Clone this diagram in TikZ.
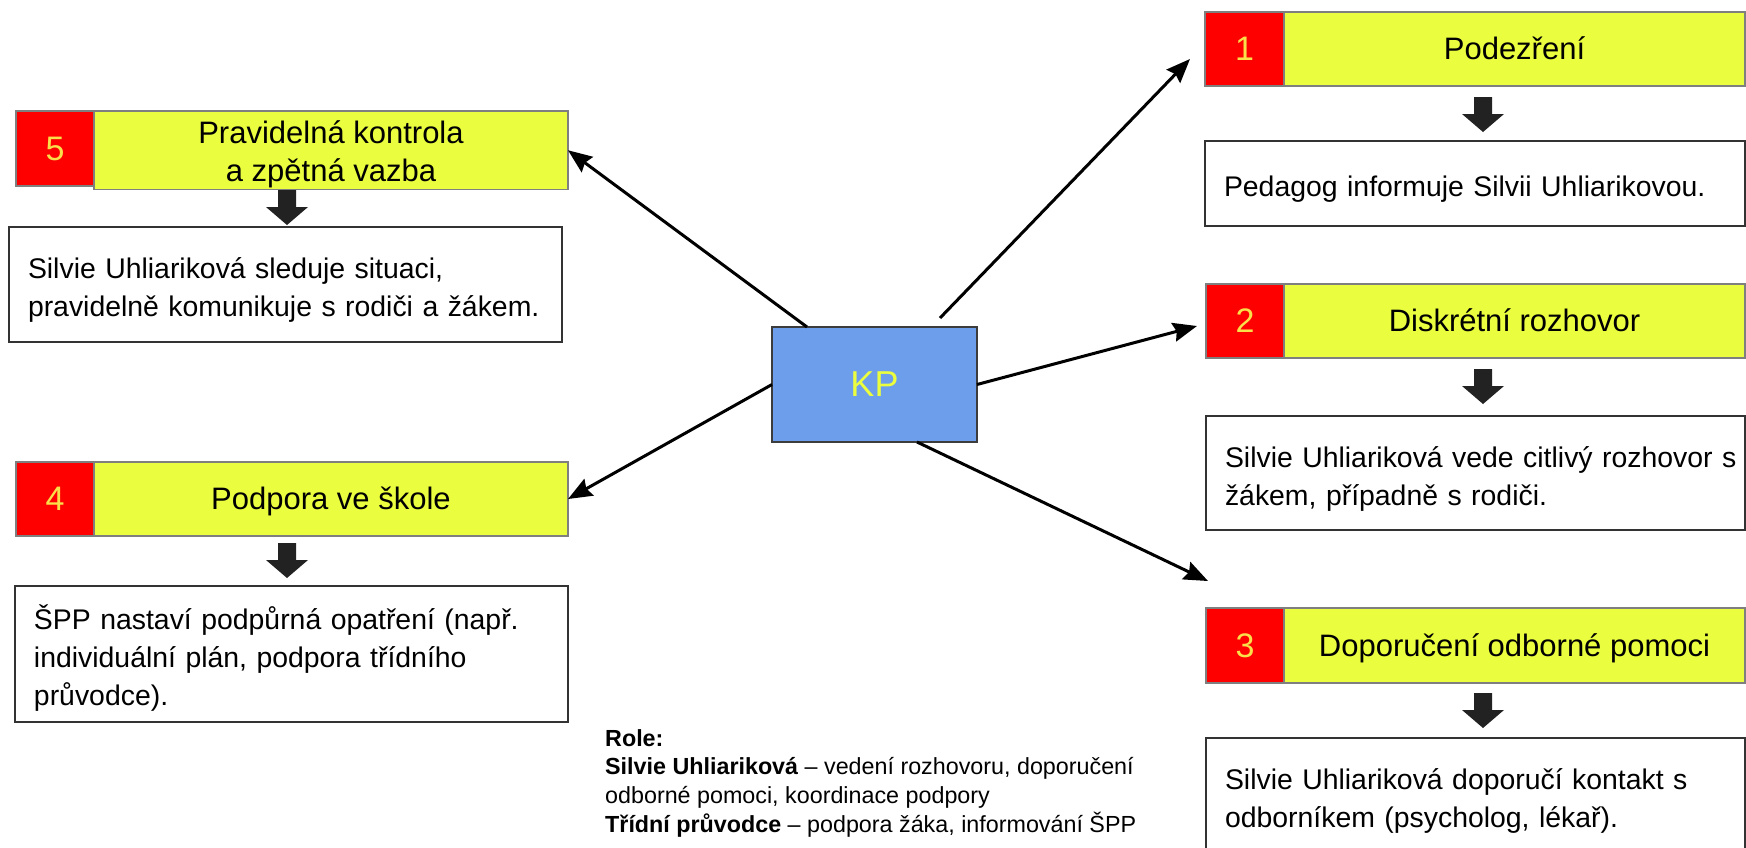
\documentclass[tikz,border=0pt]{standalone}
\usepackage{fontspec}
\setmainfont{Liberation Sans}
\usetikzlibrary{arrows.meta,calc}
\definecolor{boxred}{HTML}{FF0000}
\definecolor{boxyel}{HTML}{EAFD3F}
\definecolor{numyel}{HTML}{F9E04B}
\definecolor{kpblue}{HTML}{6D9EEB}
\definecolor{kptext}{HTML}{EAFD3F}
\definecolor{kpborder}{HTML}{3C3C3C}
\definecolor{greyline}{HTML}{7F7F7F}
\definecolor{darkline}{HTML}{333333}
\definecolor{barrowc}{HTML}{222222}
\newcommand\mytopstrut{\rule{0pt}{34pt}}
\newcommand\mybotstrut{\rule[-8pt]{0pt}{8pt}}
\tikzset{
  numbox/.style={draw=greyline, line width=1.5pt, fill=boxred, text=numyel,
    font=\fontsize{34}{38}\selectfont, text height=30.8pt, text depth=7.2pt,
    inner sep=0pt, outer sep=0pt, anchor=north west},
  titlebox/.style={draw=greyline, line width=1.5pt, fill=boxyel, text=black,
    font=\fontsize{31}{38}\selectfont, align=center, inner sep=0pt, outer sep=0pt, anchor=north west},
  oneline/.style={text height=28pt, text depth=6.6pt},
  textbox/.style={draw=darkline, line width=2pt, fill=white,
    font=\fontsize{28.4}{38}\selectfont, align=left, inner xsep=19pt, inner ysep=0pt,
    outer sep=0pt, anchor=north west},
  kpbox/.style={draw=kpborder, line width=2.5pt, fill=kpblue, text=kptext,
    font=\fontsize{36}{40}\selectfont, inner sep=0pt, outer sep=0pt, anchor=north west},
  conn/.style={line width=3pt, -{Stealth[length=24pt,width=19pt,inset=3pt]}},
  rolebox/.style={anchor=north west, align=left, inner sep=0pt,
    font=\fontsize{23.3}{28.7}\selectfont},
  pics/blockarrow/.style={code={
    \fill[barrowc] (-9,0) -- (9,0) -- (9,17) -- (21,17) -- (0,35) -- (-21,17) -- (-9,17) -- cycle;}}
}
\begin{document}
\begin{tikzpicture}[x=1pt,y=-1pt]
\useasboundingbox (0,0) rectangle (1746,847);
\clip (0,0) rectangle (1746,847);
\fill[white] (0,0) rectangle (1746,847);

% right column
\node[numbox, minimum width=79pt, minimum height=74pt] (b1n) at (1205,12) {1};
\node[titlebox, oneline, minimum width=461pt, minimum height=74pt] (b1t) at (1284,12) {Podezření};
\pic at (1483,97) {blockarrow};
\node[textbox, minimum height=85pt, text width=502pt] (t1) at (1205,141)
  {\mbox{\mytopstrut Pedagog informuje Silvii Uhliarikovou.\mybotstrut}};

\node[numbox, minimum width=78pt, minimum height=74pt] (b2n) at (1206,284) {2};
\node[titlebox, oneline, minimum width=461pt, minimum height=74pt] (b2t) at (1284,284) {Diskrétní rozhovor};
\pic at (1483,369) {blockarrow};
\node[textbox, minimum height=114pt, text width=501pt] (t2) at (1206,416)
  {\mbox{\mytopstrut Silvie Uhliariková vede citlivý rozhovor s}\\\mbox{žákem, případně s rodiči.\mybotstrut}};

\node[numbox, minimum width=78pt, minimum height=75pt] (b3n) at (1206,608) {3};
\node[titlebox, oneline, minimum width=461pt, minimum height=75pt] (b3t) at (1284,608) {Doporučení odborné pomoci};
\pic at (1483,693) {blockarrow};
\node[textbox, minimum height=114pt, text width=501pt] (t3) at (1206,738)
  {\mbox{\mytopstrut Silvie Uhliariková doporučí kontakt s}\\\mbox{odborníkem (psycholog, lékař).\mybotstrut}};

% left column
\node[numbox, minimum width=78pt, minimum height=75pt] (b5n) at (16,111) {5};
\node[titlebox, minimum width=474pt, minimum height=75pt] (b5t) at (94,111)
  {\rule{0pt}{32.5pt}Pravidelná kontrola\\a zpětná vazba\mybotstrut};
\pic at (287,190) {blockarrow};
\node[textbox, minimum height=115pt, text width=515pt] (t5) at (9,227)
  {\mbox{\mytopstrut Silvie Uhliariková sleduje situaci,}\\\mbox{pravidelně komunikuje s rodiči a žákem.\mybotstrut}};

\node[numbox, minimum width=78pt, minimum height=74pt] (b4n) at (16,462) {4};
\node[titlebox, oneline, minimum width=474pt, minimum height=74pt] (b4t) at (94,462) {Podpora ve škole};
\pic at (287,543) {blockarrow};
\node[textbox, minimum height=136pt, text width=515pt] (t4) at (15,586)
  {\mbox{\mytopstrut ŠPP nastaví podpůrná opatření (např.}\\\mbox{individuální plán, podpora třídního}\\\mbox{průvodce).\mybotstrut}};

% centre
\node[kpbox, minimum width=205pt, minimum height=115pt] (kp) at (772,327) {KP};

% roles
\node[rolebox] (role) at (605,729)
  {\textbf{Role:}\\\textbf{Silvie Uhliariková} – vedení rozhovoru, doporučení\\odborné pomoci, koordinace podpory\\\textbf{Třídní průvodce} – podpora žáka, informování ŠPP};

% connectors
\coordinate (s2) at (940,318);
\coordinate (e2) at (1190,59);
\coordinate (e3) at (1197,326);
\coordinate (e5) at (1208,581);
\draw[conn] ($(kp.north west)+(35,0)$) -- (b5t.east);
\draw[conn] (s2) -- (e2);
\draw[conn] (kp.east) -- (e3);
\draw[conn] (kp.west) -- (b4t.east);
\draw[conn] ($(kp.south east)+(-60,0)$) -- (e5);
\end{tikzpicture}
\end{document}
